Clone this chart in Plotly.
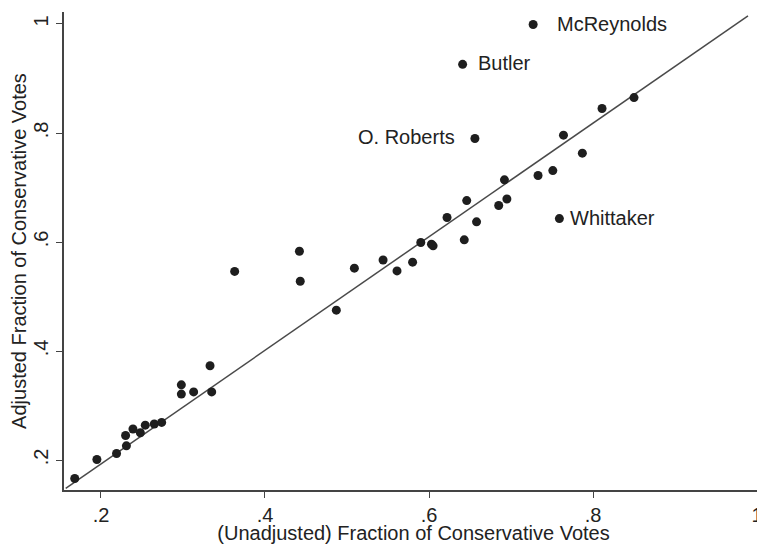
import plotly.graph_objects as go

# Unadjusted vs adjusted fraction of conservative votes (one point per justice)
unadjusted = [0.168, 0.195, 0.219, 0.230, 0.231, 0.239, 0.248, 0.254, 0.265, 0.274,
              0.298, 0.298, 0.313, 0.333, 0.335, 0.363, 0.442, 0.443, 0.487, 0.509,
              0.544, 0.561, 0.580, 0.590, 0.603, 0.605, 0.622, 0.643, 0.646, 0.658,
              0.685, 0.695, 0.692, 0.733, 0.751, 0.787, 0.764, 0.811, 0.850]
adjusted = [0.166, 0.201, 0.212, 0.245, 0.226, 0.257, 0.250, 0.264, 0.266, 0.269,
            0.338, 0.321, 0.325, 0.373, 0.325, 0.546, 0.583, 0.528, 0.475, 0.552,
            0.567, 0.547, 0.563, 0.599, 0.596, 0.593, 0.645, 0.604, 0.676, 0.637,
            0.667, 0.679, 0.714, 0.722, 0.731, 0.763, 0.796, 0.845, 0.865]

# Labelled justices
label_names = ["McReynolds", "Butler", "O. Roberts", "Whittaker"]
label_unadj = [0.727, 0.641, 0.656, 0.759]
label_adj = [0.999, 0.926, 0.790, 0.643]
label_side = ["right", "right", "left", "right"]

# Fitted line end points
fit_x = [0.157, 0.989]
fit_y = [0.148, 1.015]

x_ticks = [0.2, 0.4, 0.6, 0.8, 1.0]
x_tick_text = [".2", ".4", ".6", ".8", "1"]
y_ticks = [0.2, 0.4, 0.6, 0.8, 1.0]
y_tick_text = [".2", ".4", ".6", ".8", "1"]

FONT = "Liberation Sans, Arial, Helvetica, sans-serif"
DOT = "#1e1e1e"

fig = go.Figure()
fig.add_trace(go.Scatter(x=fit_x, y=fit_y, mode="lines",
                         line=dict(color="#4a4a4a", width=1.5),
                         showlegend=False, hoverinfo="skip"))
fig.add_trace(go.Scatter(x=unadjusted + label_unadj, y=adjusted + label_adj,
                         mode="markers",
                         marker=dict(size=9, color=DOT, line=dict(width=0)),
                         showlegend=False))

shifts = {"McReynolds": 22, "Butler": 13, "O. Roberts": -18, "Whittaker": 9}
for name, xv, yv, side in zip(label_names, label_unadj, label_adj, label_side):
    fig.add_annotation(x=xv, y=yv, text=name, showarrow=False,
                       xanchor="left" if side == "right" else "right",
                       xshift=shifts[name], yshift=1,
                       font=dict(family=FONT, size=20, color="#222222"))

# the page body adds an 8 px offset, so the figure is sized to fit the window
fig.update_layout(
    width=757, height=536,
    margin=dict(l=56, r=2, t=4, b=54, autoexpand=False),
    paper_bgcolor="white", plot_bgcolor="white",
    font=dict(family=FONT, size=20, color="#222222"),
    xaxis=dict(range=[0.1549, 1.0073], tickvals=x_ticks, ticktext=x_tick_text,
               showgrid=False, zeroline=False, showline=True, linecolor="#444444",
               linewidth=1.5, ticks="outside", ticklen=6, tickcolor="#444444",
               tickfont=dict(size=20), automargin=False,
               title=dict(text="(Unadjusted) Fraction of Conservative Votes",
                          font=dict(size=20), standoff=0)),
    yaxis=dict(range=[0.145, 1.022], tickvals=y_ticks, ticktext=y_tick_text,
               showgrid=False, zeroline=False, showline=True, linecolor="#444444",
               linewidth=1.5, ticks="outside", ticklen=6, tickcolor="#444444",
               tickangle=-90, tickfont=dict(size=20), automargin=False,
               title=dict(text="Adjusted Fraction of Conservative Votes",
                          font=dict(size=20), standoff=0)),
)

fig.write_html("out.html")
